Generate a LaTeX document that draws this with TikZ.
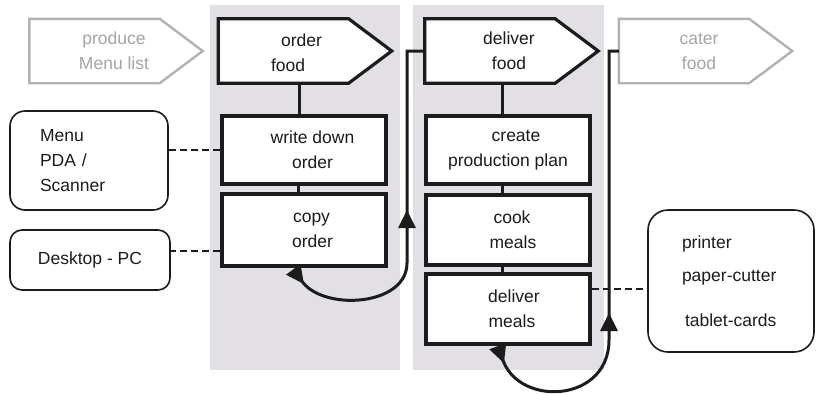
\documentclass[tikz,border=0pt]{standalone}
\usepackage{fontspec}
\setmainfont{Liberation Sans}
\usetikzlibrary{arrows.meta,decorations.markings}
\definecolor{panel}{RGB}{226,224,229}
\definecolor{ink}{RGB}{28,28,28}
\definecolor{faded}{RGB}{165,165,165}
\definecolor{fadedline}{RGB}{178,178,178}
\pgfdeclarelayer{bg}
\pgfsetlayers{bg,main}
% filled triangular head, tip at the mark, pointing along the path
\newcommand{\headmark}{\fill[ink] (3pt,0pt) -- (-15pt,9pt) -- (-15pt,-9pt) -- cycle;}

\begin{document}
\begin{tikzpicture}[x=1pt,y=-1pt,
  every node/.style={font=\fontsize{17.5}{25}\selectfont, text=ink, inner sep=0pt},
  pent/.style={minimum width=173pt, minimum height=64pt},
  pentline/.style={draw=ink, line width=3.2pt, fill=white, line join=miter},
  fadedpent/.style={draw=fadedline, line width=2.4pt, fill=white, line join=miter},
  stepbox/.style={draw=ink, line width=3.2pt, fill=white, minimum width=164pt, align=center},
  toolbox/.style={draw=ink, line width=1.6pt, fill=white},
  link/.style={draw=ink, line width=3pt},
  assoc/.style={draw=ink, line width=2pt, dash pattern=on 7pt off 4pt},
  cycleline/.style={draw=ink, line width=3pt, postaction={decorate}}
]
\useasboundingbox (0,0) rectangle (816,394);

% swimlane panels
\begin{pgfonlayer}{bg}
  \fill[panel] (210,5) rectangle (400,370);
  \fill[panel] (413,5) rectangle (604,370);
\end{pgfonlayer}

% process pentagons (node frames, outlines drawn below)
\node[pent, label={[text=faded, align=center, xshift=-2pt]center:produce\\Menu list}] (produce) at (116,51) {};
\node[pent, label={[align=left, xshift=-8.5pt, yshift=-1.5pt]center:\hspace*{10pt}order\\food}] (order) at (305,51) {};
\node[pent, label={[align=center, xshift=-2.5pt]center:deliver\\food}] (deliver) at (511.5,51) {};
\node[pent, label={[text=faded, align=center, xshift=-6.5pt]center:cater\\food}] (cater) at (705.5,51) {};

\begin{pgfonlayer}{bg}
  \foreach \p/\s in {produce/fadedpent, order/pentline, deliver/pentline, cater/fadedpent}{
    \path[\s] (\p.north west) -- ([xshift=-43pt]\p.north east) -- (\p.east)
      -- ([xshift=-43pt]\p.south east) -- (\p.south west) -- cycle;
  }
\end{pgfonlayer}

% process steps
\node[stepbox, minimum height=68pt] (write) at (304,150) {\hspace*{17pt}write down\\\hspace*{17pt}order};
\node[stepbox, minimum height=72pt] (copy) at (304,230) {\hspace*{15pt}copy\\\hspace*{17pt}order};
\node[stepbox, minimum height=68pt] (create) at (508,150) {\hspace*{16pt}create\\production plan};
\node[stepbox, minimum height=70pt] (cook) at (508,230) {\hspace*{8pt}cook\\\hspace*{10pt}meals};
\node[stepbox, minimum height=70pt] (delmeals) at (508,309) {\hspace*{12pt}deliver\\\hspace*{8pt}meals};

% supporting tools
\node[toolbox, rounded corners=15pt, minimum width=158pt, minimum height=99pt,
      text width=98pt, inner xsep=30pt, align=left] (menu) at (89,160.5) {Menu\\PDA /\\Scanner};
\node[toolbox, rounded corners=12pt, minimum width=160pt, minimum height=60pt] (desktop) at (90,260) {Desktop - PC};
\node[toolbox, rounded corners=20pt, minimum width=166pt, minimum height=142pt,
      text width=98pt, inner xsep=34pt, align=left] (devices) at (731,281)
      {printer\\[8pt]paper-cutter\\[20pt]\hspace*{3pt}tablet-cards};

% sequence links
\draw[link] ([xshift=-6pt]order.south) -- ([xshift=-6pt]order.south |- write.north);
\draw[link] ([xshift=-6pt]write.south) -- ([xshift=-6pt]write.south |- copy.north);
\draw[link] ([xshift=-9.5pt]deliver.south) -- ([xshift=-9.5pt]deliver.south |- create.north);
\draw[link] ([xshift=-6pt]create.south) -- ([xshift=-6pt]create.south |- cook.north);
\draw[link] ([xshift=-6pt]cook.south) -- ([xshift=-6pt]cook.south |- delmeals.north);

% tool associations
\draw[assoc] (write.west) -- (write.west -| menu.east);
\draw[assoc] ([yshift=-21pt]copy.west) -- ([yshift=-21pt]copy.west -| desktop.east);
\draw[assoc] ([yshift=20pt]delmeals.east) -- ([yshift=20pt]delmeals.east -| devices.west);

% hand-over loops
\coordinate (bendA) at (407,263);
\coordinate (bendB) at (609,340);
\draw[cycleline, decoration={markings,
    mark=at position 15pt with {\headmark},
    mark=at position -180pt with {\headmark}}]
  ([xshift=-7pt]copy.south) .. controls (300,312) and (407,312) .. (bendA)
  -- (bendA |- deliver.west) -- (deliver.west);
\draw[cycleline, decoration={markings,
    mark=at position 15pt with {\headmark},
    mark=at position -275pt with {\headmark}}]
  ([xshift=-8pt]delmeals.south) .. controls (503,408) and (609,408) .. (bendB)
  -- (bendB |- cater.west) -- (cater.west);
\end{tikzpicture}
\end{document}
